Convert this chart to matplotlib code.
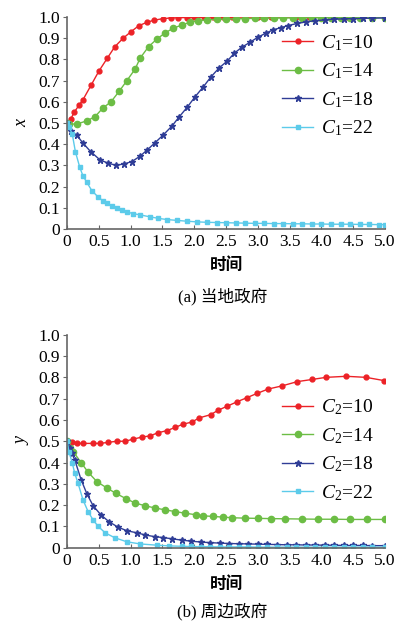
import matplotlib
matplotlib.use("Agg")
import matplotlib.pyplot as plt

plt.rcParams["font.family"] = ["Liberation Serif", "Noto Sans CJK SC"]
plt.rcParams["mathtext.fontset"] = "custom"
plt.rcParams["mathtext.it"] = "Liberation Serif:italic"
plt.rcParams["mathtext.rm"] = "Liberation Serif"

# ---- data: panel (a) local government, x ----
t_a10 = [0, 0.06, 0.11, 0.19, 0.25, 0.38, 0.5, 0.63, 0.75, 0.88, 1.0, 1.13, 1.26, 1.36, 1.51, 1.63, 1.75,
         1.88, 2.0, 2.15, 2.3, 2.45, 2.6, 2.8, 3.0, 3.2, 3.4, 3.6, 3.8, 4.0, 4.2, 4.4, 4.6, 4.8, 5.0]
x_a10 = [0.5, 0.52, 0.55, 0.585, 0.61, 0.68, 0.745, 0.805, 0.86, 0.90, 0.93, 0.96, 0.976, 0.985, 0.993, 0.996, 0.997,
         0.998, 0.999, 0.999, 1.0, 1.0, 1.0, 1.0, 1.0, 1.0, 1.0, 1.0, 1.0, 1.0, 1.0, 1.0, 1.0, 1.0, 1.0]
t_a14 = [0, 0.03, 0.15, 0.31, 0.44, 0.56, 0.69, 0.82, 0.94, 1.07, 1.15, 1.28, 1.41, 1.54, 1.67, 1.8, 1.93,
         2.06, 2.2, 2.35, 2.5, 2.65, 2.8, 2.95, 3.1, 3.25, 3.4, 3.55, 3.7, 3.85, 4.0, 4.15, 4.3, 4.45, 4.6, 4.8, 5.0]
x_a14 = [0.5, 0.495, 0.495, 0.51, 0.53, 0.57, 0.60, 0.65, 0.70, 0.755, 0.807, 0.86, 0.896, 0.925, 0.948, 0.962, 0.976,
         0.983, 0.987, 0.99, 0.991, 0.992, 0.993, 0.994, 0.995, 0.995, 0.996, 0.996, 0.997, 0.997, 0.997, 0.998, 0.998, 0.998, 0.998, 0.998, 0.998]
t_a18 = [0, 0.06, 0.15, 0.25, 0.37, 0.52, 0.65, 0.77, 0.9, 1.02, 1.15, 1.26, 1.38, 1.51, 1.65, 1.76, 1.89, 2.01,
         2.14, 2.26, 2.39, 2.52, 2.63, 2.75, 2.88, 3.0, 3.13, 3.24, 3.36, 3.47, 3.62, 3.75, 3.9, 4.05, 4.2, 4.35,
         4.5, 4.65, 4.8, 5.0]
x_a18 = [0.5, 0.46, 0.443, 0.405, 0.365, 0.325, 0.31, 0.30, 0.307, 0.318, 0.344, 0.373, 0.406, 0.443, 0.486, 0.528, 0.575, 0.623,
         0.67, 0.717, 0.76, 0.793, 0.83, 0.858, 0.882, 0.905, 0.925, 0.94, 0.95, 0.96, 0.97, 0.977, 0.983, 0.987, 0.99, 0.992,
         0.993, 0.994, 0.995, 0.996]
t_a22 = [0, 0.03, 0.08, 0.13, 0.2, 0.25, 0.31, 0.39, 0.49, 0.56, 0.63, 0.71, 0.79, 0.86, 0.94, 1.04, 1.15, 1.3,
         1.43, 1.57, 1.73, 1.89, 2.05, 2.2, 2.35, 2.5, 2.65, 2.8, 2.95, 3.1, 3.25, 3.4, 3.55, 3.7, 3.85, 4.0, 4.15,
         4.3, 4.45, 4.6, 4.75, 4.9, 5.0]
x_a22 = [0.5, 0.48, 0.45, 0.365, 0.29, 0.25, 0.22, 0.18, 0.15, 0.133, 0.12, 0.11, 0.10, 0.09, 0.08, 0.072, 0.066, 0.057,
         0.05, 0.044, 0.04, 0.036, 0.033, 0.031, 0.03, 0.029, 0.028, 0.027, 0.026, 0.026, 0.025, 0.025, 0.024, 0.024, 0.023,
         0.023, 0.022, 0.022, 0.022, 0.021, 0.021, 0.02, 0.02]

# ---- data: panel (b) neighbouring government, y ----
t_b10 = [0, 0.08, 0.15, 0.25, 0.4, 0.52, 0.65, 0.78, 0.91, 1.04, 1.18, 1.3, 1.43, 1.57, 1.7, 1.82, 1.96, 2.08,
         2.26, 2.37, 2.52, 2.67, 2.83, 2.99, 3.16, 3.38, 3.62, 3.85, 4.07, 4.39, 4.7, 4.98]
y_b10 = [0.5, 0.495, 0.49, 0.49, 0.49, 0.49, 0.495, 0.50, 0.50, 0.51, 0.52, 0.525, 0.54, 0.55, 0.565, 0.58, 0.59, 0.61,
         0.625, 0.645, 0.665, 0.685, 0.705, 0.725, 0.745, 0.76, 0.78, 0.79, 0.80, 0.805, 0.80, 0.785]
t_b14 = [0, 0.05, 0.1, 0.22, 0.33, 0.47, 0.63, 0.77, 0.93, 1.07, 1.23, 1.38, 1.54, 1.7, 1.86, 2.03,
         2.14, 2.3, 2.45, 2.6, 2.8, 3.0, 3.2, 3.43, 3.7, 3.95, 4.2, 4.45, 4.72, 5.0]
y_b14 = [0.5, 0.47, 0.45, 0.40, 0.355, 0.31, 0.28, 0.255, 0.23, 0.21, 0.197, 0.187, 0.178, 0.17, 0.162, 0.155,
         0.15, 0.147, 0.144, 0.141, 0.139, 0.138, 0.137, 0.136, 0.135, 0.134, 0.134, 0.133, 0.133, 0.133]
t_b18 = [0, 0.04, 0.07, 0.12, 0.22, 0.31, 0.41, 0.53, 0.66, 0.8, 0.94, 1.1, 1.23, 1.38, 1.51, 1.65, 1.8, 1.95,
         2.1, 2.25, 2.4, 2.55, 2.7, 2.85, 3.0, 3.15, 3.3, 3.45, 3.6, 3.75, 3.9, 4.05, 4.2, 4.35, 4.5, 4.65, 4.8, 5.0]
y_b18 = [0.5, 0.47, 0.445, 0.413, 0.32, 0.254, 0.197, 0.155, 0.122, 0.097, 0.08, 0.07, 0.06, 0.052, 0.048, 0.042, 0.036,
         0.031, 0.027, 0.024, 0.022, 0.02, 0.019, 0.018, 0.017, 0.016, 0.015, 0.014, 0.014, 0.013, 0.013, 0.012, 0.012,
         0.011, 0.011, 0.011, 0.01, 0.01]
t_b22 = [0, 0.03, 0.08, 0.12, 0.17, 0.25, 0.33, 0.41, 0.49, 0.6, 0.75, 0.94, 1.15, 1.42, 1.6, 1.8,
         1.95, 2.1, 2.25, 2.4, 2.55, 2.7, 2.85, 3.0, 3.15, 3.3, 3.45, 3.6, 3.75, 3.9, 4.05, 4.2, 4.35, 4.5, 4.65, 4.8, 5.0]
y_b22 = [0.5, 0.45, 0.40, 0.35, 0.305, 0.225, 0.17, 0.13, 0.10, 0.07, 0.047, 0.028, 0.018, 0.012, 0.009, 0.007,
         0.006, 0.005, 0.005, 0.004, 0.004, 0.004, 0.004, 0.003, 0.003, 0.003, 0.003, 0.003, 0.003, 0.003, 0.003, 0.003,
         0.003, 0.003, 0.003, 0.003, 0.003]

xticks = [0, 0.5, 1.0, 1.5, 2.0, 2.5, 3.0, 3.5, 4.0, 4.5, 5.0]
xtick_labels = ["0", "0.5", "1.0", "1.5", "2.0", "2.5", "3.0", "3.5", "4.0", "4.5", "5.0"]
yticks = [0, 0.1, 0.2, 0.3, 0.4, 0.5, 0.6, 0.7, 0.8, 0.9, 1.0]
ytick_labels = ["0", "0.1", "0.2", "0.3", "0.4", "0.5", "0.6", "0.7", "0.8", "0.9", "1.0"]

RED, GREEN, BLUE, CYAN = "#ec2227", "#6cbd45", "#2f3d96", "#5ccbea"
serif = ["Liberation Serif", "DejaVu Serif"]
cjk = ["Noto Sans CJK SC", "DejaVu Sans"]

fig = plt.figure(figsize=(3.97, 6.34), dpi=100)
ax1 = fig.add_axes([0.169, 0.639, 0.801, 0.334])
ax2 = fig.add_axes([0.169, 0.136, 0.801, 0.336])

def style(ax, ylabel, xlabel, caption, cap_y):
    ax.set_xlim(0, 5.0)
    ax.set_ylim(0, 1.0)
    ax.set_xticks(xticks)
    ax.set_xticklabels(xtick_labels, fontsize=12.5)
    ax.set_yticks(yticks)
    ax.set_yticklabels(ytick_labels, fontsize=12.5)
    for s in ("top", "right"):
        ax.spines[s].set_visible(False)
    for s in ("left", "bottom"):
        ax.spines[s].set_color("#666666")
        ax.spines[s].set_linewidth(1.2)
    ax.tick_params(axis="x", direction="in", length=3, color="#666666", pad=4)
    ax.tick_params(axis="y", direction="out", length=3, color="#666666", pad=2)
    ax.set_ylabel(ylabel, fontstyle="italic", fontsize=13, labelpad=6)
    ax.set_xlabel(xlabel, fontfamily=cjk, fontweight="bold", fontsize=12, labelpad=4)
    fig.text(0.56, cap_y, caption, fontsize=12, ha="center", va="center")

ax1.plot(t_a10, x_a10, color=RED, marker="o", ms=3.5, lw=1, label=r"$C_1$=10")
ax1.plot(t_a14, x_a14, color=GREEN, marker="o", ms=4.5, lw=1, label=r"$C_1$=14")
ax1.plot(t_a18, x_a18, color=BLUE, marker="*", ms=5, lw=1, label=r"$C_1$=18")
ax1.plot(t_a22, x_a22, color=CYAN, marker="s", ms=3.2, lw=1, label=r"$C_1$=22")
style(ax1, "x", "时间", "(a) 当地政府", 1 - 297 / 634)

ax2.plot(t_b10, y_b10, color=RED, marker="o", ms=3.5, lw=1, label=r"$C_2$=10")
ax2.plot(t_b14, y_b14, color=GREEN, marker="o", ms=4.5, lw=1, label=r"$C_2$=14")
ax2.plot(t_b18, y_b18, color=BLUE, marker="*", ms=5, lw=1, label=r"$C_2$=18")
ax2.plot(t_b22, y_b22, color=CYAN, marker="s", ms=3.2, lw=1, label=r"$C_2$=22")
style(ax2, "y", "时间", "(b) 周边政府", 1 - 612 / 634)

for ax, anchor in ((ax1, (1.0, 0.98)), (ax2, (1.0, 0.76))):
    ax.legend(loc="upper right", bbox_to_anchor=anchor, frameon=False,
              prop={"family": serif, "size": 14}, handlelength=1.6,
              labelspacing=0.45, handletextpad=0.4, borderaxespad=0.2)

fig.savefig("out.png", dpi=100)
